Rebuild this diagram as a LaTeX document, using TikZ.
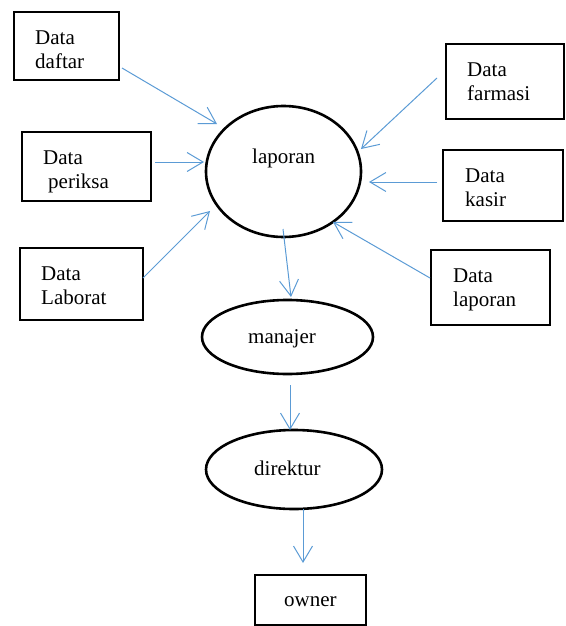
\documentclass[tikz,border=0pt]{standalone}
\usepackage{fontspec}
\setmainfont{Liberation Serif}
\usetikzlibrary{arrows.meta,shapes.geometric}
\definecolor{arrowblue}{HTML}{5B9BD5}
\tikzset{
  box/.style={draw=black, line width=2.6pt, rectangle, inner sep=0pt},
  oval/.style={draw=black, line width=2.6pt, ellipse, inner sep=0pt},
  lbl/.style={anchor=base west, inner sep=0pt, align=left, font=\fontsize{21}{24}\selectfont},
  flow/.style={draw=arrowblue, line width=1pt, -{Straight Barb[length=16pt, width=19pt, line width=1pt]}}
}
\begin{document}
\begin{tikzpicture}[x=1pt, y=-1pt]
\useasboundingbox (0,0) rectangle (565,626);
% boxes
\node[box, minimum width=105pt, minimum height=68pt] (daftar) at (66.5,46) {};
\node[box, minimum width=129pt, minimum height=69pt] (periksa) at (86.5,166.5) {};
\node[box, minimum width=123pt, minimum height=72pt] (laborat) at (81.5,284) {};
\node[box, minimum width=118pt, minimum height=75pt] (farmasi) at (505,81.5) {};
\node[box, minimum width=120pt, minimum height=71pt] (kasir) at (503,185.5) {};
\node[box, minimum width=119pt, minimum height=75pt] (dlaporan) at (490.5,287.5) {};
\node[box, minimum width=111pt, minimum height=50pt] (owner) at (310.5,600) {};
% ellipses
\node[oval, minimum width=155pt, minimum height=131pt] (laporan) at (283.5,171.5) {};
\node[oval, minimum width=171pt, minimum height=74pt] (manajer) at (287.5,337) {};
\node[oval, minimum width=176pt, minimum height=79pt] (direktur) at (294,469.5) {};
% labels (base = baseline of last line)
\node[lbl] (tdaftar) at (35,68) {Data\\daftar};
\begin{scope}
\clip (24,134) rectangle (149,192);
\node[lbl] (tperiksa) at (43,188) {Data\\\hspace*{5pt}periksa};
\end{scope}
\node[lbl] (tlaborat) at (41,304) {Data\\Laborat};
\node[lbl] (tfarmasi) at (467,100) {Data\\farmasi};
\node[lbl] (tkasir) at (465,206) {Data\\kasir};
\node[lbl] (tdlaporan) at (453,306) {Data\\laporan};
\node[lbl] (tlaporan) at (252,163) {laporan};
\node[lbl] (tmanajer) at (248,343) {manajer};
\node[lbl] (tdirektur) at (254,475) {direktur};
\node[lbl] (towner) at (284,606) {owner};
% connectors
\coordinate (a1) at (122,68);  \coordinate (b1) at (217,124);
\coordinate (a2) at (155,162); \coordinate (b2) at (204,162);
\coordinate (a3) at (143,278); \coordinate (b3) at (210,211);
\coordinate (a4) at (437,78);  \coordinate (b4) at (361,149);
\coordinate (a5) at (437,182); \coordinate (b5) at (369,182);
\coordinate (a6) at (430,278); \coordinate (b6) at (333,222);
\coordinate (a7) at (283,229); \coordinate (b7) at (291,297);
\coordinate (a8) at (290,385); \coordinate (b8) at (290,430);
\coordinate (a9) at (303,509); \coordinate (b9) at (303,563);
\draw[flow] (a1) -- (b1);
\draw[flow] (a2) -- (b2);
\draw[flow] (a3) -- (b3);
\draw[flow] (a4) -- (b4);
\draw[flow] (a5) -- (b5);
\draw[flow] (a6) -- (b6);
\draw[flow] (a7) -- (b7);
\draw[flow] (a8) -- (b8);
\draw[flow] (a9) -- (b9);
\end{tikzpicture}
\end{document}
